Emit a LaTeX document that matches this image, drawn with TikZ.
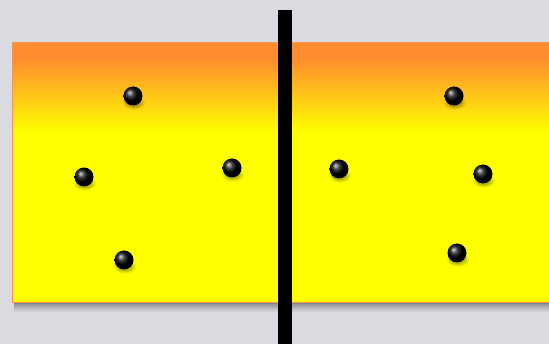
\documentclass[tikz,border=0pt]{standalone}
\usepackage{tikz}
\usetikzlibrary{positioning}
\definecolor{bgGray}{RGB}{218,219,224}
\definecolor{slabOrange}{RGB}{255,140,46}
\definecolor{slabYellow}{RGB}{255,255,0}
\definecolor{slabEdge}{RGB}{247,150,70}
\tikzset{
  ball/.style={circle, minimum size=19pt, inner sep=0pt, shading=ball, ball color=black},
}
\begin{document}
\begin{tikzpicture}[x=1pt,y=-1pt]
% Background
\fill[bgGray] (0,0) rectangle (549,344);
\useasboundingbox (0,0) rectangle (549,344);

% Slab shadow
\foreach \d/\o in {10/0.05,8/0.07,6/0.09,4/0.11,2/0.13}
  \fill[black,opacity=\o] (14,44) rectangle (549,302+\d);

% Slab with gradient top
\fill[slabYellow] (12,42) rectangle (549,302);
\fill[slabOrange] (12,42) rectangle (549,58);
\shade[top color=slabOrange, bottom color=slabYellow] (12,58) rectangle (549,132);
\draw[slabEdge, line width=0.8pt] (549,42) -- (12,42) -- (12,302) -- (549,302);

% Ball shadows
\foreach \x/\y in {133/96,84/177,232/168,124/260,339/169,454/96,483/174,457/253}
  \foreach \r/\o in {11/0.08,9/0.1,7/0.12}
    \fill[black,opacity=\o] (\x+1,\y+7) ellipse ({\r pt} and {0.6*\r pt});

% Balls, left side
\node[ball] (l1) at (133,96) {};
\node[ball] (l2) at (84,177) {};
\node[ball] (l3) at (232,168) {};
\node[ball] (l4) at (124,260) {};

% Balls, right side
\node[ball] (r1) at (339,169) {};
\node[ball] (r2) at (454,96) {};
\node[ball] (r3) at (483,174) {};
\node[ball] (r4) at (457,253) {};

% Wall
\fill[black] (278,10) rectangle (292,344);
\end{tikzpicture}
\end{document}
